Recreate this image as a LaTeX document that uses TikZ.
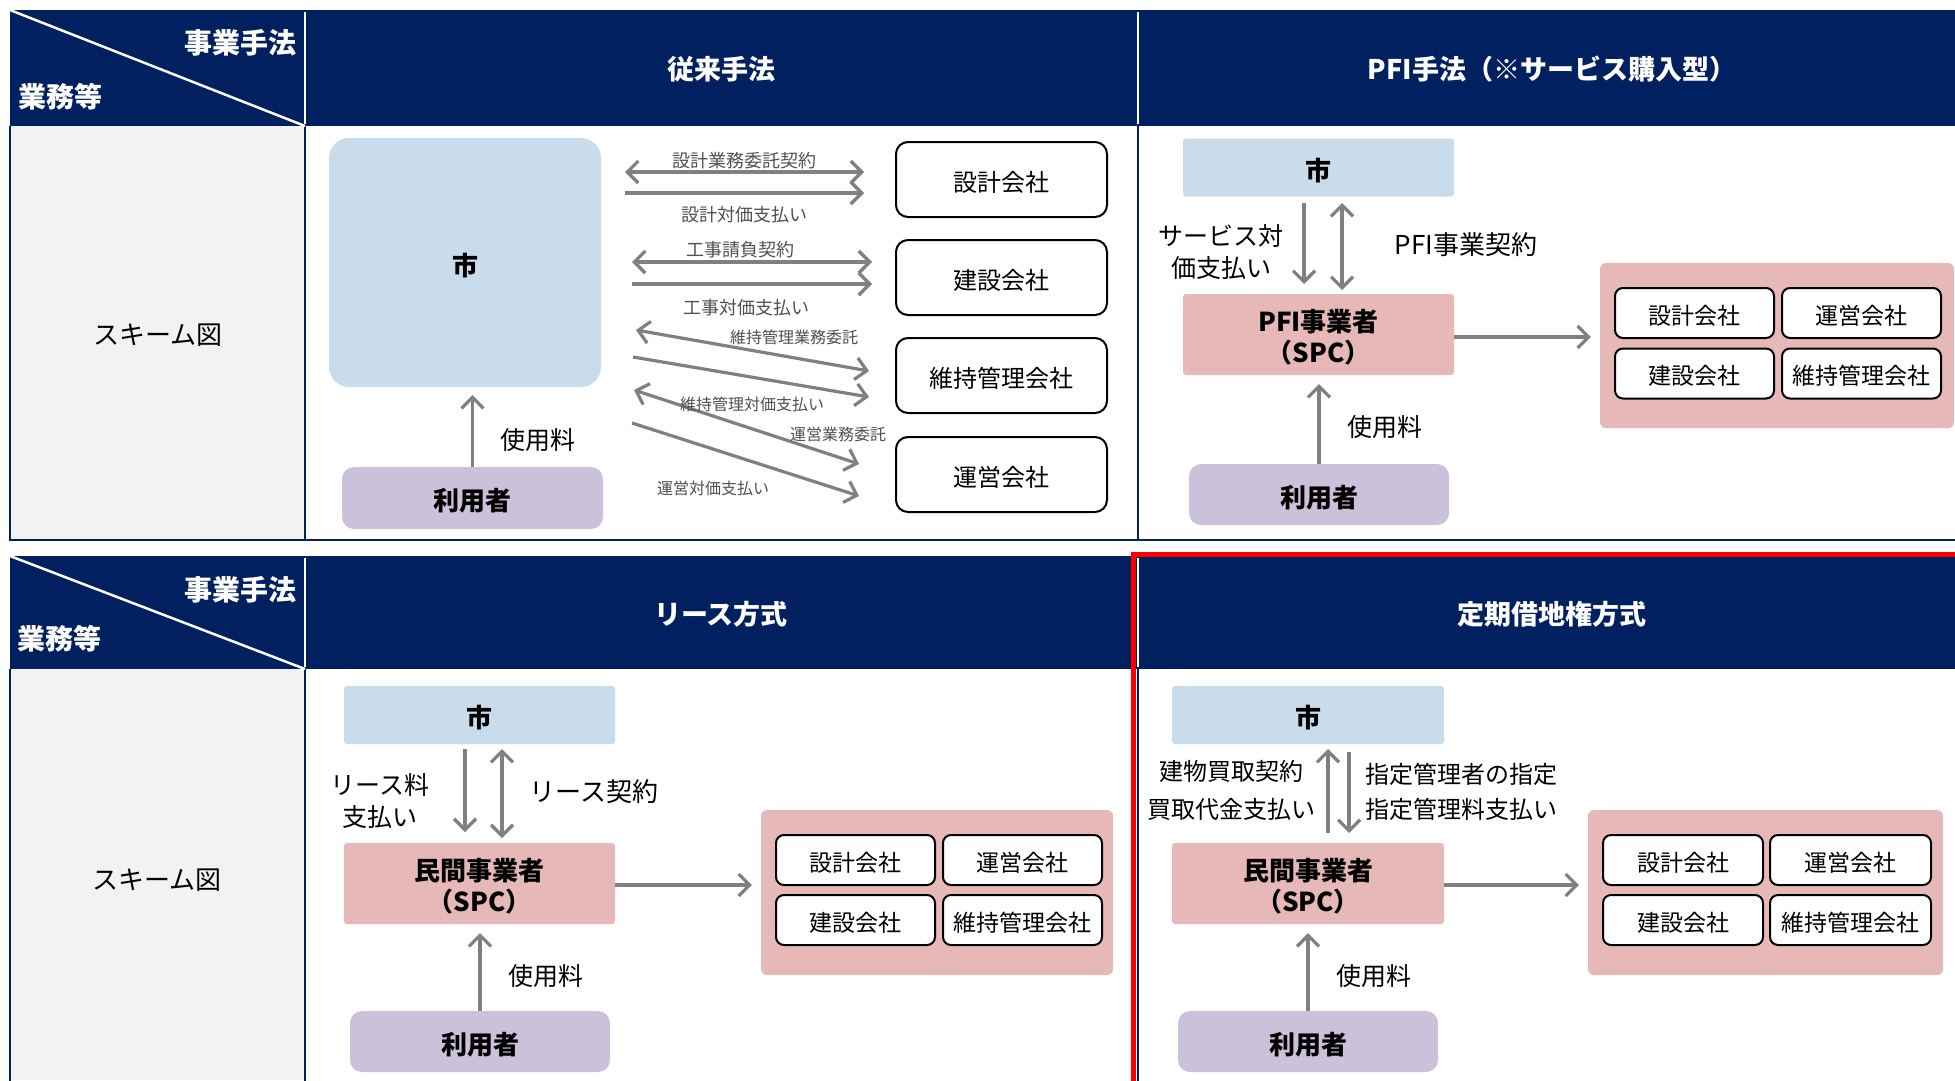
\documentclass[tikz,border=0pt]{standalone}
\usepackage{fontspec}
\setmainfont{Noto Sans CJK JP}
\usetikzlibrary{arrows.meta}
\definecolor{navy}{HTML}{002060}
\definecolor{cityblue}{HTML}{C9DCEC}
\definecolor{spcpink}{HTML}{E6B9B8}
\definecolor{userpurple}{HTML}{CCC1DA}
\definecolor{cellgray}{HTML}{F2F2F2}
\definecolor{arrowgray}{HTML}{808080}
\definecolor{labgray}{HTML}{505050}
\begin{document}
\begin{tikzpicture}[x=1pt,y=-1pt,
  tline/.style={draw=navy, line width=2.5pt},
  wline/.style={draw=white, line width=2pt},
  hdr/.style={font=\fontsize{27}{32}\selectfont\bfseries, text=white, inner sep=0pt, yshift=-1.5pt},
  corner/.style={font=\fontsize{28}{32}\selectfont\bfseries, text=white, inner sep=0pt},
  rowlab/.style={font=\fontsize{26}{30}\selectfont, inner sep=0pt, yshift=-1pt},
  box/.style={draw=none, inner sep=0pt},
  btxt/.style={label={[inner sep=0pt, align=center, font=\fontsize{26}{31}\selectfont\bfseries, yshift=-3pt]center:#1}},
  ctxt/.style={label={[inner sep=0pt, font=\fontsize{24}{28}\selectfont, yshift=-2.5pt]center:#1}},
  itxt/.style={label={[inner sep=0pt, font=\fontsize{23}{28}\selectfont, yshift=-2.5pt]center:#1}},
  citybox/.style={box, fill=cityblue, rounded corners=3pt, minimum width=271pt, minimum height=58pt},
  spcbox/.style={box, fill=spcpink, rounded corners=3pt, minimum width=271pt, minimum height=81pt},
  userbox/.style={box, fill=userpurple, rounded corners=12pt, minimum width=260pt, minimum height=61pt},
  groupbox/.style={draw=none, fill=spcpink, rounded corners=6pt, inner sep=0pt},
  compbox/.style={draw=black, line width=2pt, fill=white, rounded corners=12pt, inner sep=0pt,
    minimum width=211pt, minimum height=75pt},
  inbox/.style={draw=black, line width=2pt, fill=white, rounded corners=8pt, inner sep=0pt,
    minimum width=159pt, minimum height=50pt},
  lab/.style={inner sep=0pt, align=center, font=\fontsize{25}{32}\selectfont, yshift=-2pt},
  smallA/.style={inner sep=0pt, text=labgray, font=\fontsize{18}{20}\selectfont, yshift=-1pt},
  smallB/.style={inner sep=0pt, text=labgray, font=\fontsize{16}{18}\selectfont, yshift=-1pt},
  arr/.style={draw=arrowgray, line width=3.2pt, -{Straight Barb[length=11pt,width=22pt]}},
  darr/.style={draw=arrowgray, line width=3.2pt, {Straight Barb[length=11pt,width=22pt]}-{Straight Barb[length=11pt,width=22pt]}}
]
\useasboundingbox (0,0) rectangle (1955,1080);
\fill[white] (0,0) rectangle (1955,1080);

% ===== top table =====
\fill[navy] (10,10) rectangle (1955,126);
\fill[cellgray] (10,126) rectangle (305,540);
\draw[tline] (10,126) -- (10,540) -- (1955,540);
\draw[tline] (305,126) -- (305,540);
\draw[tline] (1138,126) -- (1138,540);
\draw[wline] (305,12) -- (305,124);
\draw[wline] (1138,12) -- (1138,124);
\draw[white, line width=2.5pt] (10,10) -- (305,126);
\node[corner, anchor=east] (cA1) at (297,43) {事業手法};
\node[corner] (cA2) at (60,97) {業務等};
\node[hdr] (tA) at (721,68) {従来手法};
\node[hdr] (tB) at (1552,68) {PFI手法（※サービス購入型）};
\node[rowlab] (rA) at (158,334) {スキーム図};

% ===== bottom table =====
\fill[navy] (10,556) rectangle (1955,669);
\fill[cellgray] (10,669) rectangle (305,1080);
\draw[tline] (10,669) -- (10,1085);
\draw[tline] (305,669) -- (305,1085);
\draw[tline] (1138,669) -- (1138,1085);
\draw[wline] (305,558) -- (305,667);
\draw[wline] (1138,558) -- (1138,667);
\draw[white, line width=2.5pt] (10,556) -- (305,669);
\node[corner, anchor=east] (cC1) at (297,590) {事業手法};
\node[corner] (cC2) at (59,639) {業務等};
\node[hdr] (tC) at (721,613) {リース方式};
\node[hdr] (tD) at (1552,613) {定期借地権方式};
\node[rowlab] (rC) at (157,879) {スキーム図};

% ===== panel A: conventional =====
\node[citybox, rounded corners=20pt, minimum width=272pt, minimum height=249pt, btxt={市}] (shiA) at (465,262.5) {};
\node[userbox, minimum width=261pt, minimum height=62pt, btxt={利用者}] (userA) at (472.5,498) {};
\draw[arr, shorten >=8pt] (userA.north) -- (userA.north |- shiA.south);
\node[lab] (feeA) at (538,438) {使用料};

\node[compbox, ctxt={設計会社}] (desA) at (1001.5,179.5) {};
\node[compbox, ctxt={建設会社}] (conA) at (1001.5,277.5) {};
\node[compbox, ctxt={維持管理会社}] (mntA) at (1001.5,375.5) {};
\node[compbox, ctxt={運営会社}] (opsA) at (1001.5,474.5) {};

\coordinate (a1l) at (625,172); \coordinate (a1r) at (864,172);
\coordinate (a2l) at (625,193); \coordinate (a2r) at (864,193);
\coordinate (a3l) at (632,262); \coordinate (a3r) at (872,262);
\coordinate (a4l) at (632,284); \coordinate (a4r) at (872,284);
\coordinate (a5l) at (636,330); \coordinate (a5r) at (869,371);
\coordinate (a6l) at (633,357); \coordinate (a6r) at (869,397);
\coordinate (a7l) at (634,390); \coordinate (a7r) at (859,464);
\coordinate (a8l) at (632,423); \coordinate (a8r) at (859,496);
\draw[darr] (a1l) -- (a1r);
\draw[arr] (a2l) -- (a2r);
\draw[darr] (a3l) -- (a3r);
\draw[arr] (a4l) -- (a4r);
\draw[darr] (a5l) -- (a5r);
\draw[arr] (a6l) -- (a6r);
\draw[darr] (a7l) -- (a7r);
\draw[arr] (a8l) -- (a8r);
\node[smallA] (l1) at (744,160) {設計業務委託契約};
\node[smallA] (l2) at (744,214) {設計対価支払い};
\node[smallA] (l3) at (740,249) {工事請負契約};
\node[smallA] (l4) at (746,307) {工事対価支払い};
\node[smallB] (l5) at (794,336) {維持管理業務委託};
\node[smallB] (l6) at (752,403) {維持管理対価支払い};
\node[smallB] (l7) at (838,433) {運営業務委託};
\node[smallB] (l8) at (713,487) {運営対価支払い};

% ===== panel B: PFI =====
\node[citybox, btxt={市}] (shiB) at (1318.5,167.5) {};
\node[spcbox, btxt={PFI事業者\\（SPC）}] (spcB) at (1318.5,334.5) {};
\node[userbox, btxt={利用者}] (userB) at (1319,494.5) {};
\coordinate (bd1) at (1304,203); \coordinate (bd2) at (1304,284);
\coordinate (bc1) at (1342,203); \coordinate (bc2) at (1342,290);
\draw[arr] (bd1) -- (bd2);
\draw[darr] (bc1) -- (bc2);
\node[lab] (payB) at (1221,250) {サービス対\\価支払い};
\node[lab, font=\fontsize{26}{32}\selectfont] (conB) at (1466,243) {PFI事業契約};
\draw[arr, shorten >=9pt] (userB.north) -- (userB.north |- spcB.south);
\node[lab] (feeB) at (1385,425) {使用料};
\node[groupbox, minimum width=354pt, minimum height=165pt] (grpB) at (1777,345.5) {};
\draw[arr, shorten >=9pt] (spcB.east |- 0,337) -- (grpB.west |- 0,337);
\node[inbox, itxt={設計会社}] (b11) at (1694.5,313) {};
\node[inbox, itxt={運営会社}] (b12) at (1861.5,313) {};
\node[inbox, itxt={建設会社}] (b21) at (1694.5,373.5) {};
\node[inbox, itxt={維持管理会社}] (b22) at (1861.5,373.5) {};

% ===== panel C: lease =====
\node[citybox, btxt={市}] (shiC) at (479.5,715) {};
\node[spcbox, btxt={民間事業者\\（SPC）}] (spcC) at (479.5,883.5) {};
\node[userbox, btxt={利用者}] (userC) at (480,1041.5) {};
\coordinate (cd1) at (465,749); \coordinate (cd2) at (465,832);
\coordinate (cc1) at (502,749); \coordinate (cc2) at (502,838);
\draw[arr] (cd1) -- (cd2);
\draw[darr] (cc1) -- (cc2);
\node[lab] (payC) at (380,799) {リース料\\支払い};
\node[lab, font=\fontsize{26}{32}\selectfont] (conC) at (594,790) {リース契約};
\draw[arr, shorten >=9pt] (userC.north) -- (userC.north |- spcC.south);
\node[lab] (feeC) at (546,974) {使用料};
\node[groupbox, minimum width=352pt, minimum height=165pt] (grpC) at (937,892.5) {};
\draw[arr, shorten >=9pt] (spcC.east |- 0,885) -- (grpC.west |- 0,885);
\node[inbox, itxt={設計会社}] (c11) at (855.5,860) {};
\node[inbox, itxt={運営会社}] (c12) at (1022.5,860) {};
\node[inbox, itxt={建設会社}] (c21) at (855.5,920) {};
\node[inbox, itxt={維持管理会社}] (c22) at (1022.5,920) {};

% ===== panel D: fixed-term land lease =====
\node[citybox, minimum width=272pt, btxt={市}] (shiD) at (1308,715) {};
\node[spcbox, minimum width=272pt, btxt={民間事業者\\（SPC）}] (spcD) at (1308,883.5) {};
\node[userbox, btxt={利用者}] (userD) at (1308,1041.5) {};
\coordinate (du1) at (1328,833); \coordinate (du2) at (1328,749);
\coordinate (dd1) at (1349,752); \coordinate (dd2) at (1349,833);
\draw[arr] (du1) -- (du2);
\draw[arr] (dd1) -- (dd2);
\node[lab, font=\fontsize{24}{38}\selectfont] (buyD) at (1231,788) {建物買取契約\\買取代金支払い};
\node[lab, anchor=west, align=left, font=\fontsize{24}{35}\selectfont] (desD) at (1365,790) {指定管理者の指定\\指定管理料支払い};
\draw[arr, shorten >=9pt] (userD.north) -- (userD.north |- spcD.south);
\node[lab] (feeD) at (1374,974) {使用料};
\node[groupbox, minimum width=355pt, minimum height=165pt] (grpD) at (1765.5,892.5) {};
\draw[arr, shorten >=9pt] (spcD.east |- 0,885) -- (grpD.west |- 0,885);
\node[inbox, minimum width=160pt, itxt={設計会社}] (d11) at (1683,860) {};
\node[inbox, minimum width=161pt, itxt={運営会社}] (d12) at (1850.5,860) {};
\node[inbox, minimum width=160pt, itxt={建設会社}] (d21) at (1683,920) {};
\node[inbox, minimum width=161pt, itxt={維持管理会社}] (d22) at (1850.5,920) {};

% red highlight frame
\draw[red, line width=5pt] (1133.5,1090) -- (1133.5,554.5) -- (1965,554.5);
\end{tikzpicture}
\end{document}
